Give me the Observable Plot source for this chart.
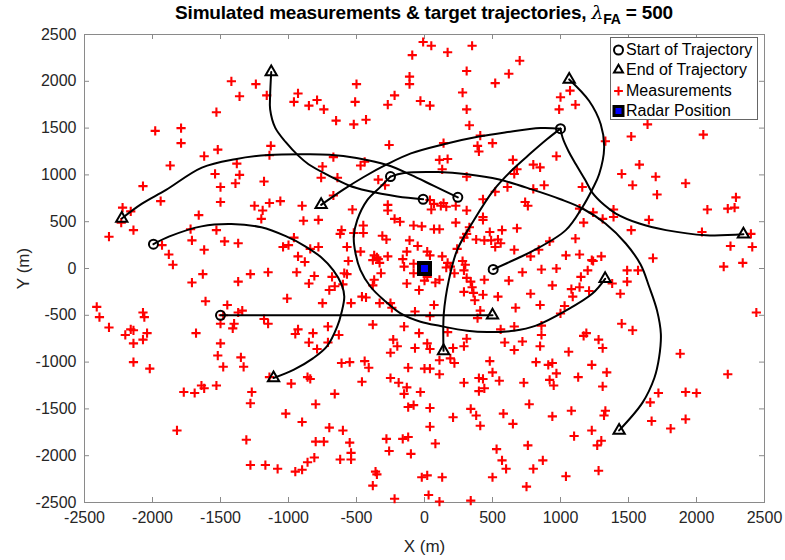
<!DOCTYPE html>
<html><head><meta charset="utf-8">
<script src="https://cdn.jsdelivr.net/npm/d3@7"></script>
<script src="https://cdn.jsdelivr.net/npm/@observablehq/plot@0.6"></script>
<style>
body{margin:0;background:#fff;}
#wrap{position:relative;width:785px;height:560px;font-family:"Liberation Sans",Arial,sans-serif;}
#title{position:absolute;left:84px;width:680px;top:1px;text-align:center;font-weight:bold;font-size:19px;color:#000;white-space:nowrap;letter-spacing:-0.2px;}
#title sub{font-size:14px;}
#title .lam{font-weight:normal;font-family:"DejaVu Serif",serif;font-style:italic;}
#legend{position:absolute;left:610px;top:37px;width:148px;height:83px;border:1px solid #666;background:#fff;box-sizing:border-box;font-size:16px;color:#000;}
#legend .row{position:absolute;left:0px;height:20px;display:flex;align-items:center;white-space:nowrap;}
#legend svg{width:15px;height:16px;margin-right:0px;}
</style></head>
<body>
<div id="wrap">
<div id="chart"></div>
<div id="title">Simulated measurements &amp; target trajectories, <span class="lam">λ</span><sub>FA</sub> = 500</div>
<div id="legend"></div>
</div>
<script>
const xTicks = [-2500,-2000,-1500,-1000,-500,0,500,1000,1500,2000,2500];
const yTicks = [-2500,-2000,-1500,-1000,-500,0,500,1000,1500,2000,2500];
const legendLabels = ["Start of Trajectory","End of Trajectory","Measurements","Radar Position"];

const measurements = [
[-1420,2000],[-1240,1970],[-1360,1840],[-1160,1850],[-930,1870],[-960,1780],[-1530,1670],[-1980,1470],[-1790,1500],[-1790,1340],[-1520,1270],[-1620,1200],[-1130,1310],[-1140,1210],[-1870,1100],[-1380,1120],[-1540,1010],[-1360,1000],[-1390,910],[-1500,870],[-1180,930],[-2070,880],
[-10,2420],[50,2380],[350,2380],[170,2310],[-90,2280],[700,2220],[310,2110],[620,2080],[-110,2050],[-110,1970],[-500,1970],[520,1980],[280,1880],[-220,1850],[-510,1780],[-270,1750],[-30,1790],[40,1740],[310,1700],[-850,1740],[-790,1800],[-740,1700],[-650,1580],[-520,1540],[-430,1590],[330,1530],[410,1420],[-260,1320],[140,1340],[390,1310],[400,1250],[500,1340],[-670,1190],[-750,1090],[-760,970],[-640,970],[-470,1100],[-440,1140],[-340,950],[-290,890],[110,1160],[170,1170],[130,1060],[310,980],[650,1160],[660,1010],[680,1060],[800,1110],[610,870],[800,850],
[1070,1900],[1000,1830],[990,1700],[1110,1750],[1640,1540],[1520,1410],[2050,1430],[1330,1360],[970,1200],[1580,1110],[850,1080],[1450,1010],[1700,980],[1920,910],[880,890],[1530,890],[1160,870],
[-1940,720],[-1500,710],[-1660,570],[-2220,650],[-2160,610],[-2230,490],[-2140,410],[-2320,340],[-1720,420],[-1530,410],[-1710,300],[-1470,290],[-1370,270],[-1930,250],[-1880,150],[-1850,40],[-1620,200],[-1250,670],[-1190,620],[-1140,700],[-1060,720],[-1200,530],[-900,670],[-890,510],[-960,330],[-1040,230],[-1000,250],[-930,130],[-1630,-60],[-1710,-150],[-1280,-60],[-1150,-40],[-1370,-140],[-940,-40],[-1010,-320],[-1610,-350],[-1450,-390],[-1370,-470],[-1340,-450],[-1480,-500],[-1500,-590],[-1400,-590],[-1410,-640],[-1180,-540],[-1150,-590],[-930,-650],[-950,-700],[-2410,-410],[-2390,-520],[-2320,-630],[-2070,-470],[-2060,-520],[-2160,-650],[-2140,-660],[-2200,-710],[-2040,-690],[-2070,-760],[-2140,-800],[-1680,-690],[-1500,-800],
[-2140,-1000],[-2020,-1070],[-1520,-930],[-1480,-1050],[-1350,-950],[-1330,-1050],[-1140,-1160],[-980,-1230],[-1770,-1320],[-1690,-1330],[-1640,-1250],[-1620,-1280],[-1530,-1250],[-1270,-1320],[-1280,-1440],[-1020,-1550],[-900,-1640],[-1820,-1730],[-1310,-1830],[-1280,-2100],[-1170,-2100],[-1080,-2140],[-950,-2170],[-900,-2150],
[-670,780],[-530,630],[-780,520],[-270,680],[-270,620],[-220,530],[-180,500],[40,730],[70,690],[50,630],[140,700],[120,670],[160,660],[230,670],[310,620],[430,740],[520,820],[740,710],[760,670],[430,550],[430,520],[230,490],[-80,460],[-20,450],[70,420],[110,420],[330,440],[310,370],[290,330],[480,390],[570,410],[680,430],[-610,410],[-620,370],[-520,380],[-450,460],[-450,380],[-310,350],[-280,310],[-110,300],[-50,240],[380,310],[440,300],[490,300],[540,310],[520,230],[560,270],[660,200],[780,130],[-840,210],[-780,230],[-570,230],[-470,180],[-370,140],[-350,120],[-380,90],[-330,60],[-340,100],[-270,130],[-560,80],[-570,-60],[-880,70],[-810,-80],[-850,-160],[-590,-50],[-320,-50],[-370,-120],[-380,-180],[-160,100],[-150,20],[-130,-160],[-130,180],[-80,50],[-80,-50],[20,180],[40,140],[20,-90],[0,-130],[-40,-230],[80,-150],[110,-120],[130,130],[170,60],[190,20],[160,10],[220,-50],[240,210],[280,80],[300,40],[290,-20],[310,-100],[340,-140],[350,-200],[290,-250],[370,-340],[430,-280],[360,-260],[440,-120],[540,-300],[620,-130],[720,-40],[780,-270],[670,-420],[410,-450],[390,-530],[560,-650],[660,-620],[590,-790],[720,-780],[170,-680],[310,-750],[70,-390],[40,-510],[-70,-460],[-250,-370],[-240,-420],[-330,-370],[-430,-310],[-460,-300],[-540,-370],[-750,-370],[-700,-230],[-660,-190],[-680,-90],[-600,-170],[-380,-600],[-150,-620],[-40,-690],[-820,-690],[-710,-620],[-630,-710],[-710,-790],[-850,-790],[-230,-760],[20,-800],
[1710,790],[2290,760],[2230,640],[2280,650],[2080,630],[1140,640],[1240,600],[1310,530],[1390,630],[1390,550],[1650,520],[1170,490],[1520,410],[2040,390],[2400,370],[2250,240],[2410,230],[2200,20],[2340,60],[2440,-470],[1110,320],[920,290],[840,200],[1040,140],[1140,150],[1230,90],[1240,80],[1300,130],[1680,110],[860,-10],[970,0],[1200,-20],[1150,-90],[1490,-20],[1570,-20],[1490,-140],[1380,-160],[940,-180],[1080,-220],[1140,-200],[1090,-300],[1210,-240],[1440,-270],[850,-390],[1030,-400],[1000,-480],[1450,-590],[1530,-660],[860,-610],[860,-710],[1170,-720],[1190,-690],[1280,-760],
[850,-830],[1310,-850],[1060,-890],[1880,-910],[910,-1030],[940,-1010],[970,-1120],[1230,-1030],[1340,-1110],[1130,-1160],[920,-1190],[950,-1250],[1310,-1260],[2230,-1130],[1720,-1330],[1660,-1430],[1920,-1320],[2000,-1330],[940,-1580],[1080,-1520],[1330,-1520],[1320,-1570],[1670,-1630],[1920,-1610],[1810,-1710],[1230,-1730],[1100,-1790],[1300,-1840],[1270,-1890],[870,-2050],[1280,-2160],[1040,-2220],
[-790,-860],[-250,-900],[-200,-830],[-70,-850],[40,-860],[210,-850],[290,-830],[660,-870],[820,-1000],[-610,-1010],[-550,-1000],[-440,-990],[-410,-1060],[190,-960],[220,-1010],[110,-980],[-120,-1060],[0,-1070],[40,-1070],[110,-1130],[480,-990],[500,-1110],[550,-1200],[400,-1170],[430,-1180],[400,-1310],[440,-1280],[290,-1220],[730,-1220],[-860,-1160],[-840,-1180],[-460,-1210],[-250,-1170],[-190,-1220],[-130,-1270],[-150,-1340],[-30,-1320],[-660,-1340],[-800,-1450],[-120,-1480],[-80,-1460],[40,-1490],[210,-1590],[340,-1500],[380,-1570],[410,-1680],[580,-1550],[650,-1660],[770,-1450],[-700,-1700],[-600,-1730],[40,-1690],[-800,-1850],[-740,-1850],[-550,-1860],[-280,-1820],[-160,-1820],[-120,-1800],[80,-1870],[-540,-1970],[-620,-2040],[-540,-2040],[-810,-2020],[-860,-2070],[-260,-1950],[-100,-1980],[530,-1930],[570,-2050],[600,-2140],[760,-1890],[800,-2140],[-360,-2170],[-350,-2200],[-380,-2320],[-20,-2230],[20,-2210],[130,-2230],[500,-2230],[750,-2330],[-220,-2460],[30,-2420],[110,-2490],[340,-2480]
];

const trajectoryStarts = [[-1993,260],[-1500,-500],[-250,982],[-10,740],[245,760],[1000,1494],[505,-10]];
const trajectoryEnds = [[-2226,534],[-1127,2100],[-760,680],[-1110,-1170],[500,-500],[140,-880],[1064,2020],[2345,365],[1328,-110],[1431,-1730]];
const radarPosition = [[0,0]];

const trackAd = [[-1993,260],[-1880,340],[-1640,450],[-1420,475],[-1200,440],[-1020,345],[-880,240],[-760,120],[-670,-20],[-610,-170],[-590,-300],[-610,-470],[-642,-622],[-716,-830],[-820,-960],[-960,-1080],[-1110,-1170]];
const trackBe = [[-1500,-500],[500,-500]];
const trackCi = [[-250,982],[-324,872],[-421,730],[-495,516],[-520,338],[-507,160],[-471,-17],[-397,-195],[-299,-337],[-176,-480],[-29,-569],[118,-615],[314,-665],[461,-679],[657,-665],[820,-610],[1039,-450],[1235,-267],[1328,-110]];
const trackCj = [[-250,982],[-150,1020],[100,1030],[314,1007],[550,950],[800,840],[1000,740],[1162,641],[1330,480],[1480,267],[1590,40],[1652,-195],[1710,-450],[1738,-700],[1725,-950],[1690,-1170],[1603,-1433],[1431,-1730]];
const trackDb = [[-10,740],[-200,770],[-420,830],[-560,890],[-700,990],[-853,1114],[-926,1203],[-1020,1350],[-1098,1505],[-1135,1700],[-1135,1850],[-1127,2100]];
const trackEa = [[245,760],[69,882],[-100,1000],[-274,1105],[-500,1180],[-700,1215],[-853,1221],[-1147,1213],[-1392,1168],[-1637,1078],[-1900,840],[-2080,690],[-2226,534]];
const trackFc = [[1000,1494],[853,1500],[600,1455],[400,1410],[142,1328],[-100,1230],[-274,1114],[-450,975],[-600,840],[-760,680]];
const trackFf = [[1000,1494],[900,1380],[780,1230],[650,1060],[510,840],[363,516],[240,196],[179,-124],[142,-480],[140,-880]];
const trackFh = [[1000,1494],[1015,1399],[1060,1250],[1113,1114],[1180,950],[1235,808],[1320,680],[1407,587],[1580,480],[1775,410],[2068,356],[2345,365]];
const trackGg = [[505,-10],[681,107],[800,190],[1039,410],[1162,658],[1235,850],[1284,1007],[1321,1291],[1296,1541],[1211,1790],[1064,2020]];
const tracks = [trackAd, trackBe, trackCi, trackCj, trackDb, trackEa, trackFc, trackFf, trackFh, trackGg];

const plusSymbol = {draw(ctx, size){const r = Math.sqrt(size/Math.PI); ctx.moveTo(-r,0); ctx.lineTo(r,0); ctx.moveTo(0,-r); ctx.lineTo(0,r);}};

const W = 785, H = 560, mL = 84, mR = 21, mT = 34, mB = 58;
const fw = W - mL - mR, fh = H - mT - mB;
const axisGray = "#8a8a8a", textGray = "#262626";
const fmt = d => String(d);

const plot = Plot.plot({
  width: W, height: H,
  marginLeft: mL, marginRight: mR, marginTop: mT, marginBottom: mB,
  x: {domain: [-2500, 2500]},
  y: {domain: [-2500, 2500]},
  style: {fontFamily: "'Liberation Sans', Arial, sans-serif", fontSize: "16px", color: textGray, background: "white", overflow: "visible"},
  marks: [
    Plot.frame({stroke: axisGray, strokeWidth: 1}),
    Plot.tickX(xTicks, {x: d => d, insetTop: fh - 5, stroke: axisGray}),
    Plot.tickX(xTicks, {x: d => d, insetBottom: fh - 5, stroke: axisGray}),
    Plot.tickY(yTicks, {y: d => d, insetRight: fw - 5, stroke: axisGray}),
    Plot.tickY(yTicks, {y: d => d, insetLeft: fw - 5, stroke: axisGray}),
    Plot.axisX(xTicks, {anchor: "bottom", tickSize: 0, tickPadding: 9, tickFormat: fmt, fontSize: 16, label: null}),
    Plot.axisY(yTicks, {anchor: "left", tickSize: 0, tickPadding: 8, tickFormat: fmt, fontSize: 16, label: null}),
    Plot.axisX({anchor: "bottom", ticks: [], tickSize: 0, fontSize: 17, label: "X (m)", labelAnchor: "center", labelArrow: "none", labelOffset: 49}),
    Plot.axisY({anchor: "left", ticks: [], tickSize: 0, fontSize: 17, label: "Y (m)", labelAnchor: "center", labelArrow: "none", labelOffset: 68}),
    Plot.dot(measurements, {x: d => d[0], y: d => d[1], symbol: plusSymbol, r: 4.6, stroke: "#ff0000", strokeWidth: 2.1, fill: "none"}),
    ...tracks.map(t => Plot.line(t, {x: d => d[0], y: d => d[1], stroke: "black", strokeWidth: 2, curve: "catmull-rom"})),
    Plot.dot(trajectoryStarts, {x: d => d[0], y: d => d[1], r: 4.5, stroke: "black", strokeWidth: 2, fill: "none"}),
    Plot.dot(trajectoryEnds, {x: d => d[0], y: d => d[1], symbol: "triangle", r: 4.2, stroke: "black", strokeWidth: 2, fill: "none"}),
    Plot.dot(radarPosition, {x: d => d[0], y: d => d[1], symbol: "square", r: 6.2, fill: "#0000ff", stroke: "black", strokeWidth: 4})
  ]
});
document.getElementById("chart").appendChild(plot);

// legend
const legendSymbols = [
  `<svg viewBox="-7.5 -8 15 16"><circle r="4.5" fill="none" stroke="black" stroke-width="2"/></svg>`,
  `<svg viewBox="-7.5 -8 15 16"><path d="M0,-5.2L4.5,2.6L-4.5,2.6Z" fill="none" stroke="black" stroke-width="2"/></svg>`,
  `<svg viewBox="-7.5 -8 15 16"><path d="M-4.4,0H4.4M0,-4.4V4.4" stroke="#ff0000" stroke-width="2"/></svg>`,
  `<svg viewBox="-7.5 -8 15 16"><rect x="-4.5" y="-4.5" width="9" height="9" fill="#0000ff" stroke="black" stroke-width="3"/></svg>`
];
const leg = document.getElementById("legend");
legendLabels.forEach((lab, i) => {
  const row = document.createElement("div");
  row.className = "row";
  row.style.top = (2 + i * 20.3) + "px";
  row.innerHTML = legendSymbols[i] + `<span>${lab}</span>`;
  leg.appendChild(row);
});
</script>
</body></html>
